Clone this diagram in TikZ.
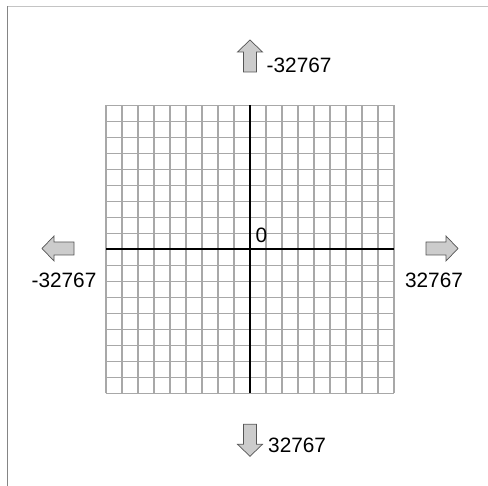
\documentclass[tikz,border=0pt]{standalone}
\usepackage{fontspec}
\setmainfont{Liberation Sans}
\usepackage{xcolor}
\usepackage{tikz}
\usetikzlibrary{positioning}
\definecolor{gridgray}{HTML}{A8A8A8}
\definecolor{framelight}{HTML}{C4C4C4}
\definecolor{framedark}{HTML}{858585}
\definecolor{arrowfill}{HTML}{CCCCCC}
\definecolor{arrowline}{HTML}{555555}
% block arrow pointing right, centred at #2, turned by #1
\newcommand{\blockarrow}[2]{%
  \draw[blockarr,shift={#2},rotate=#1]
    (-16,-6.5)--(4,-6.5)--(4,-12.5)--(16,0)--(4,12.5)--(4,6.5)--(-16,6.5)--cycle;}

\begin{document}
\begin{tikzpicture}[
  x=1pt,y=1pt,
  gridline/.style={draw=gridgray,line width=1.3pt},
  axisline/.style={draw=black,line width=2pt},
  blockarr/.style={fill=arrowfill,draw=arrowline,line width=0.7pt,line join=miter},
  lbl/.style={inner sep=0pt,font=\fontsize{20.8}{24}\selectfont}
]
\useasboundingbox (0,0) rectangle (488,486);
% frame
\draw[framelight,line width=1.5pt] (7.5,479.5)--(488,479.5);
\draw[framedark,line width=1.5pt] (7.5,479.5)--(7.5,0);
% grid
\foreach \i in {0,...,18}{
  \draw[gridline] (106+16*\i,92.5)--(106+16*\i,380.5);
  \draw[gridline] (106,92.5+16*\i)--(394,92.5+16*\i);
}
\draw[axisline] (250,92.5)--(250,380.5);
\draw[axisline] (106,236.5)--(394,236.5);
% direction arrows
\blockarrow{90}{(250,430)}
\blockarrow{-90}{(250,45.7)}
\blockarrow{180}{(58,237.5)}
\blockarrow{0}{(442,237.5)}
% labels
\node[lbl,anchor=west] (ymin) at (266.5,421) {-32767};
\node[lbl,anchor=west] (ymax) at (268,41) {32767};
\node[lbl] (xmin) at (64,206) {-32767};
\node[lbl] (xmax) at (434,206) {32767};
\node[lbl] (origin) at (261.5,251) {0};
\end{tikzpicture}
\end{document}
